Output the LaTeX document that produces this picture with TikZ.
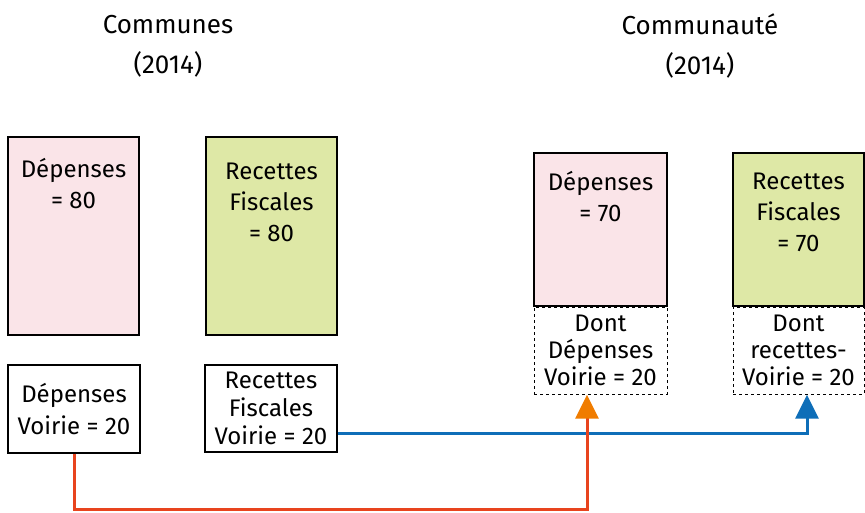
\documentclass[tikz,border=0pt]{standalone}
\usepackage{fontspec}
\setmainfont{Fira Sans}
\usepackage{tikz}
\usetikzlibrary{positioning,arrows.meta}
\definecolor{rosePale}{RGB}{250,228,232}
\definecolor{vertPale}{RGB}{222,232,166}
\definecolor{rougeLien}{RGB}{232,68,30}
\definecolor{orangeTip}{RGB}{240,124,0}
\definecolor{bleuLien}{RGB}{14,110,184}

\begin{document}
\begin{tikzpicture}[x=1pt, y=-1pt,
  boite/.style={draw, line width=1.4pt, inner sep=0pt, minimum width=131pt},
  pointille/.style={draw, dashed, line width=1pt, inner sep=0pt, minimum width=133pt, minimum height=87pt},
  texte/.style={align=center, inner sep=0pt, font=\fontsize{24}{31}\selectfont},
  titre/.style={align=center, inner sep=0pt, font=\fontsize{26}{40}\selectfont}]
\useasboundingbox (0,0) rectangle (865,512);
% titres
\node[titre] (communes) at (168,46) {Communes\\(2014)};
\node[titre] (communaute) at (700,46) {Communauté\\(2014)};
% communes
\node[boite, fill=rosePale, minimum height=198pt] (depC) at (73.5,236) {};
\node[texte, anchor=north, yshift=-22pt] (depCt) at (depC.north) {Dépenses\\= 80};
\node[boite, fill=vertPale, minimum height=198pt] (recC) at (271.5,236) {};
\node[texte, anchor=north, yshift=-26pt] (recCt) at (recC.north) {Recettes\\Fiscales\\= 80};
\node[boite, minimum height=88pt, minimum width=132pt, texte, font=\fontsize{24}{32}\selectfont] (depV) at (74,409) {Dépenses\\Voirie = 20};
\node[boite, minimum height=87pt, minimum width=132pt, texte, font=\fontsize{24}{28}\selectfont] (recV) at (271,408.5) {Recettes\\Fiscales\\Voirie = 20};
% communaute
\node[boite, fill=rosePale, minimum height=153pt, minimum width=133pt] (depA) at (600.5,229.5) {};
\node[texte, anchor=north, yshift=-19pt] (depAt) at (depA.north) {Dépenses\\= 70};
\node[boite, fill=vertPale, minimum height=153pt] (recA) at (798.5,229.5) {};
\node[texte, anchor=north, yshift=-20pt] (recAt) at (recA.north) {Recettes\\Fiscales\\= 70};
\node[pointille, texte, font=\fontsize{24}{27}\selectfont, below=0pt of depA] (dontD) {Dont\\Dépenses\\Voirie = 20};
\node[pointille, texte, font=\fontsize{24}{27}\selectfont, below=0pt of recA, minimum width=131pt] (dontR) {Dont\\recettes-\\Voirie = 20};
% liens
\coordinate (coude) at (587,509);
\draw[bleuLien, line width=3pt, -{Triangle[width=23pt,length=24pt]}] ([yshift=-24.5pt]recV.east) -| ([xshift=8.5pt]dontR.south);
\draw[rougeLien, line width=3pt, -{Triangle[width=23pt,length=24pt,color=orangeTip]}] (depV.south) |- (coude) -- ([xshift=-13.5pt]dontD.south);
\end{tikzpicture}
\end{document}
